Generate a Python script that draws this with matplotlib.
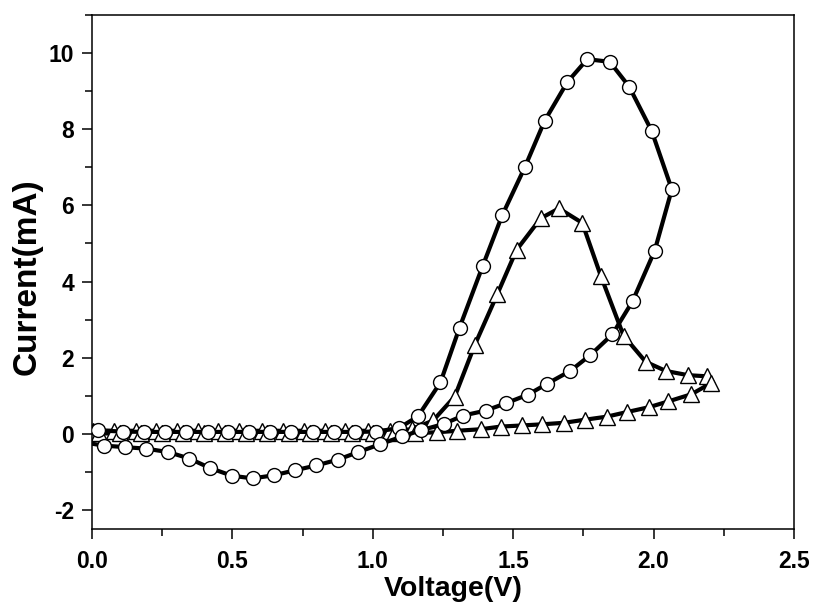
import matplotlib
matplotlib.use("Agg")
import matplotlib.pyplot as plt
from matplotlib.ticker import MultipleLocator

plt.rcParams['font.family'] = ['Liberation Sans', 'DejaVu Sans']
plt.rcParams['font.weight'] = 'bold'

# Circle series (larger CV loop)
v_circ = [0.00, 0.02, 0.109, 0.186, 0.260, 0.335, 0.413, 0.486, 0.560, 0.635, 0.710,
          0.787, 0.861, 0.936, 1.013, 1.093, 1.161, 1.241, 1.309, 1.391, 1.461, 1.542,
          1.612, 1.693, 1.764, 1.844, 1.913, 1.993, 2.065, 2.004, 1.925, 1.853, 1.775,
          1.703, 1.622, 1.553, 1.473, 1.402, 1.322, 1.253, 1.170, 1.104, 1.024, 0.948,
          0.875, 0.799, 0.722, 0.647, 0.572, 0.498, 0.421, 0.347, 0.272, 0.193, 0.118,
          0.044, 0.00]
i_circ = [0.07, 0.09, 0.06, 0.05, 0.05, 0.05, 0.05, 0.05, 0.05, 0.05, 0.05,
          0.05, 0.05, 0.05, 0.06, 0.15, 0.46, 1.35, 2.79, 4.40, 5.74, 7.01,
          8.22, 9.24, 9.84, 9.77, 9.12, 7.96, 6.42, 4.81, 3.48, 2.61, 2.07,
          1.65, 1.32, 1.03, 0.80, 0.61, 0.48, 0.26, 0.09, -0.07, -0.28, -0.48,
          -0.68, -0.83, -0.96, -1.09, -1.17, -1.10, -0.90, -0.65, -0.48, -0.39, -0.35,
          -0.31, -0.26]

# Triangle series (smaller CV loop)
v_tri = [0.00, 0.005, 0.080, 0.157, 0.228, 0.302, 0.379, 0.450, 0.525, 0.605, 0.680,
         0.754, 0.831, 0.902, 0.983, 1.06, 1.14, 1.215, 1.292, 1.363, 1.443, 1.512,
         1.598, 1.663, 1.746, 1.812, 1.893, 1.972, 2.044, 2.123, 2.192, 2.204, 2.135,
         2.052, 1.984, 1.904, 1.833, 1.755, 1.681, 1.604, 1.532, 1.455, 1.384, 1.300,
         1.229, 1.150, 1.075, 1.000, 0.925, 0.850, 0.775, 0.700, 0.625, 0.550, 0.475,
         0.400, 0.325, 0.250, 0.175, 0.100, 0.025, 0.00]
i_tri = [0.08, 0.08, 0.08, 0.08, 0.08, 0.08, 0.08, 0.08, 0.08, 0.08, 0.08,
         0.08, 0.08, 0.08, 0.08, 0.08, 0.12, 0.35, 0.98, 2.33, 3.66, 4.83,
         5.66, 5.92, 5.54, 4.15, 2.58, 1.89, 1.65, 1.54, 1.51, 1.33, 1.04,
         0.85, 0.70, 0.57, 0.45, 0.37, 0.29, 0.25, 0.22, 0.19, 0.12, 0.08,
         0.04, 0.02, 0.01, 0.01, 0.01, 0.01, 0.01, 0.01, 0.01, 0.01, 0.01,
         0.01, 0.01, 0.01, 0.01, 0.01, 0.01, 0.01]

x_ticks = [0.0, 0.5, 1.0, 1.5, 2.0, 2.5]
y_ticks = [-2, 0, 2, 4, 6, 8, 10]

fig = plt.figure(figsize=(8.14, 6.05), dpi=100)
ax = fig.add_axes([0.113, 0.1256, 0.8624, 0.8496])

ax.plot(v_tri, i_tri, color='black', lw=3.0, marker='^', ms=11,
        mfc='white', mec='black', mew=1.0, markevery=slice(1, -1), zorder=2)
ax.plot(v_circ, i_circ, color='black', lw=3.0, marker='o', ms=10,
        mfc='white', mec='black', mew=1.0, markevery=slice(1, -1), zorder=3)

ax.set_xlim(0, 2.5)
ax.set_ylim(-2.5, 11)
ax.set_xticks(x_ticks)
ax.set_xticklabels([f"{t:.1f}" for t in x_ticks])
ax.set_yticks(y_ticks)
ax.set_yticklabels([str(t) for t in y_ticks])
ax.xaxis.set_minor_locator(MultipleLocator(0.25))
ax.yaxis.set_minor_locator(MultipleLocator(1))

ax.tick_params(which='major', direction='out', length=7, width=1.1,
               labelsize=16.5, top=False, right=False)
ax.tick_params(which='minor', direction='out', length=5, width=1.1,
               top=False, right=False)
ax.tick_params(axis='x', which='major', pad=8)
ax.tick_params(axis='y', which='major', pad=6)
for lab in ax.get_xticklabels() + ax.get_yticklabels():
    lab.set_fontweight('bold')
for s in ax.spines.values():
    s.set_linewidth(1.1)

ax.set_xlabel('Voltage(V)', fontsize=20.5, fontweight='bold')
ax.set_ylabel('Current(mA)', fontsize=24, fontweight='bold')
ax.xaxis.set_label_coords(0.515, -0.092)
ax.yaxis.set_label_coords(-0.07, 0.49)

fig.savefig('out.png', dpi=100)
